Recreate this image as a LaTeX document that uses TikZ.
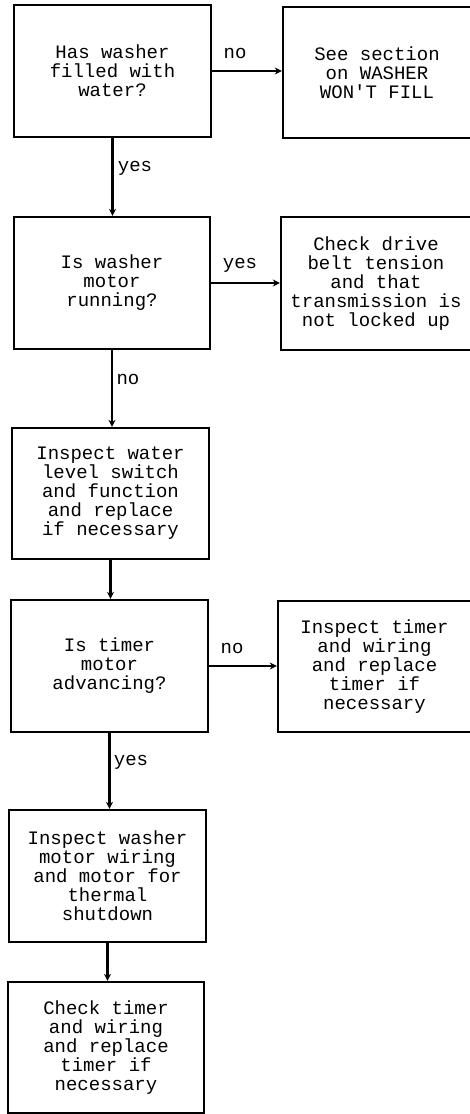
\documentclass[tikz,border=0pt]{standalone}
\usepackage{fontspec}
\setmonofont{Liberation Mono}
\usetikzlibrary{arrows.meta}
\tikzset{
  box/.style={draw, line width=2.4pt, rectangle, inner sep=0pt, align=center,
    font=\fontsize{19}{19}\selectfont\ttfamily},
  lbl/.style={inner sep=0pt, font=\fontsize{19}{19}\selectfont\ttfamily},
  conn/.style={line width=2.2pt, -{Stealth[length=7pt,width=7pt]}}
}
\begin{document}
\begin{tikzpicture}[x=1pt,y=-1pt]
\useasboundingbox (0,0) rectangle (469,1114);
\node[box, minimum width=197pt, minimum height=132pt] (b1) at (112.5,71) {Has washer\\filled with\\water?};
\node[box, minimum width=188pt, minimum height=131pt] (b2) at (377,72.5) {See section\\on WASHER\\WON'T FILL};
\node[box, minimum width=196pt, minimum height=132pt] (b3) at (112,283) {Is washer\\motor\\running?};
\node[box, minimum width=190pt, minimum height=133pt] (b4) at (376,283.5) {Check drive\\belt tension\\and that\\transmission is\\not locked up};
\node[box, minimum width=197pt, minimum height=131pt] (b5) at (110.5,493.5) {Inspect water\\level switch\\and function\\and replace\\if necessary};
\node[box, minimum width=197pt, minimum height=132pt] (b6) at (109.5,666) {Is timer\\motor\\advancing?};
\node[box, minimum width=193pt, minimum height=131pt] (b7) at (374.5,666.5) {Inspect timer\\and wiring\\and replace\\timer if\\necessary};
\node[box, minimum width=197pt, minimum height=132pt] (b8) at (107.5,876) {Inspect washer\\motor wiring\\and motor for\\thermal\\shutdown};
\node[box, minimum width=196pt, minimum height=131pt] (b9) at (106,1047.5) {Check timer\\and wiring\\and replace\\timer if\\necessary};

\draw[conn] (b1.east) -- (b2.west |- b1.east);
\draw[conn] (b1.south) -- (b1.south |- b3.north);
\draw[conn] (b3.east) -- (b4.west |- b3.east);
\draw[conn] (b3.south) -- (b3.south |- b5.north);
\draw[conn] (b5.south) -- (b5.south |- b6.north);
\draw[conn] (b6.east) -- (b7.west |- b6.east);
\draw[conn] (b6.south) -- (b6.south |- b8.north);
\draw[conn] (b8.south) -- (b8.south |- b9.north);

\node[lbl] (l1) at (235,53) {no};
\node[lbl] (l2) at (135,168) {yes};
\node[lbl] (l3) at (240,265) {yes};
\node[lbl] (l4) at (128,379) {no};
\node[lbl] (l5) at (232,648) {no};
\node[lbl] (l6) at (131,762) {yes};
\end{tikzpicture}
\end{document}
